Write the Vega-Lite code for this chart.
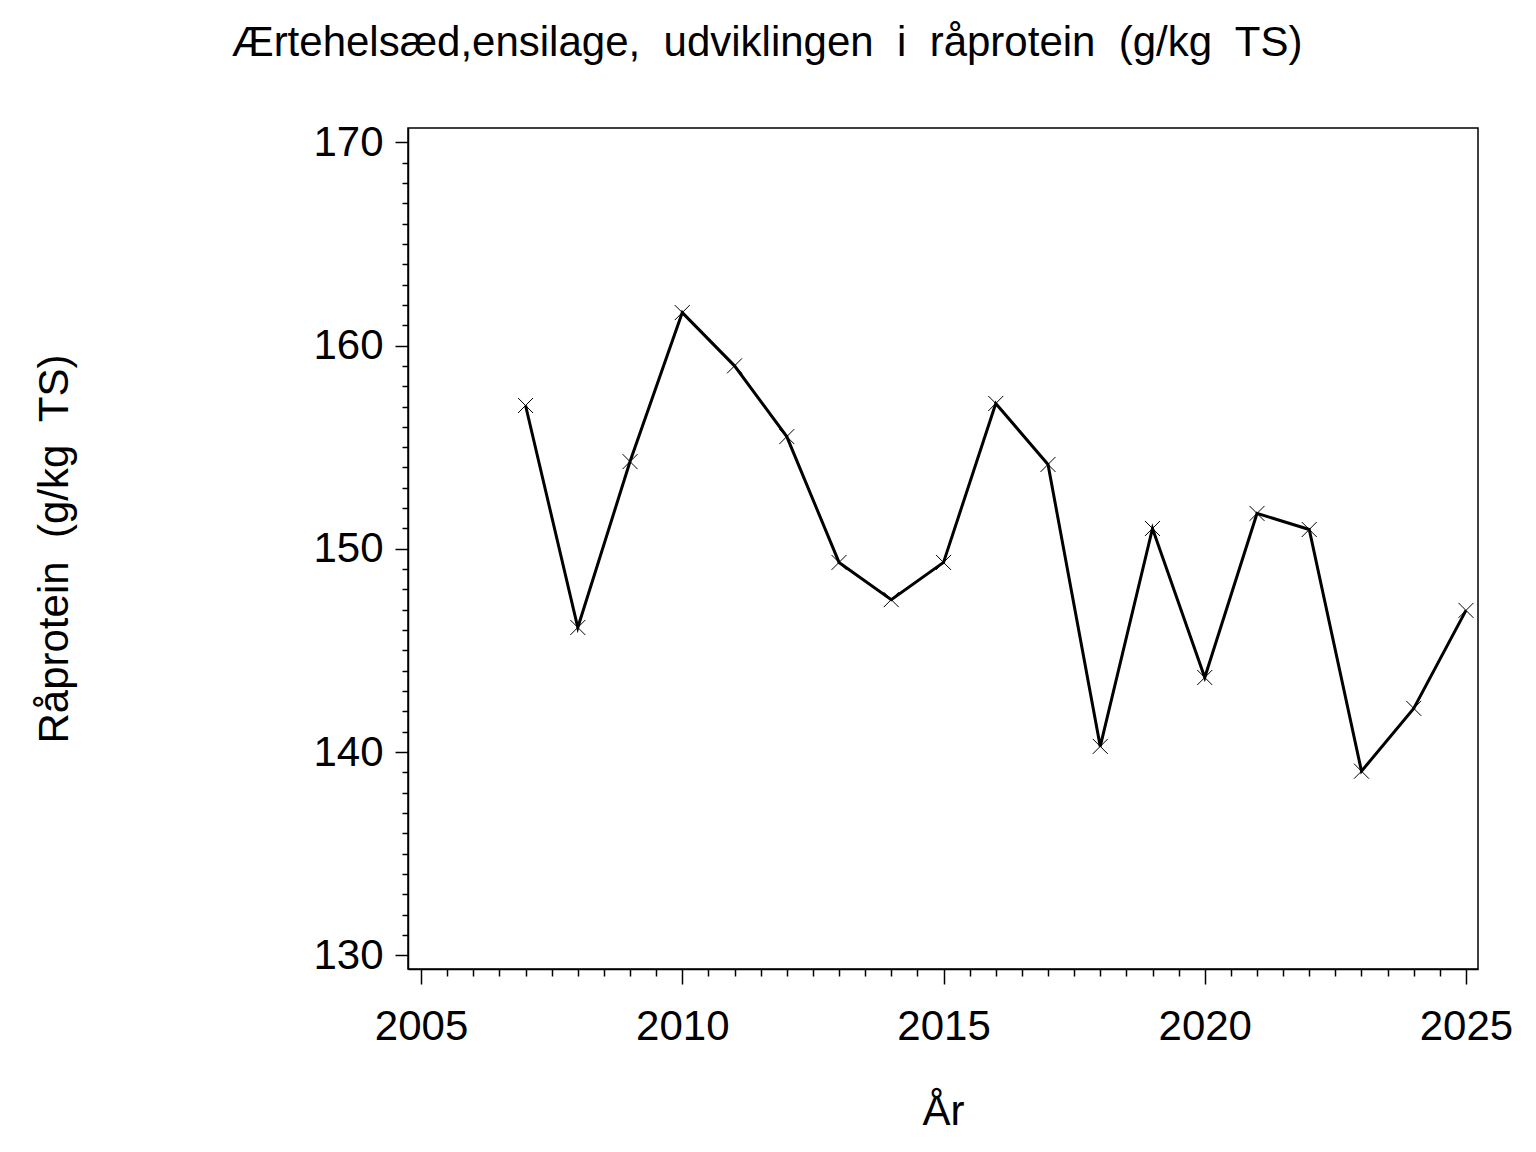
{
  "$schema": "https://vega.github.io/schema/vega-lite/v6.json",
  "width": 1070,
  "height": 841,
  "autosize": {"type": "none"},
  "padding": {"left": 408, "top": 128, "right": 58, "bottom": 183},
  "background": "white",
  "config": {
    "font": "Liberation Sans",
    "view": {"stroke": "black", "strokeWidth": 1.5},
    "axis": {"grid": false, "domainColor": "black", "tickColor": "black", "labelColor": "black", "titleColor": "black", "labelFont": "Liberation Sans", "titleFont": "Liberation Sans", "titleFontWeight": "normal", "tickWidth": 1.5, "domainWidth": 1.5}
  },
  "title": {
    "text": "Ærtehelsæd,ensilage,\u00a0 udviklingen\u00a0 i\u00a0 råprotein\u00a0 (g/kg\u00a0 TS)",
    "font": "Liberation Sans",
    "fontSize": 42,
    "fontWeight": "normal",
    "color": "black",
    "anchor": "middle",
    "dx": -176,
    "baseline": "alphabetic",
    "offset": 23
  },
  "data": {
    "values": [
      {"year": 2007, "protein": 157.05},
      {"year": 2008, "protein": 146.13},
      {"year": 2009, "protein": 154.29},
      {"year": 2010, "protein": 161.62},
      {"year": 2011, "protein": 159.0},
      {"year": 2012, "protein": 155.52},
      {"year": 2013, "protein": 149.33},
      {"year": 2014, "protein": 147.5},
      {"year": 2015, "protein": 149.33},
      {"year": 2016, "protein": 157.15},
      {"year": 2017, "protein": 154.15},
      {"year": 2018, "protein": 140.28},
      {"year": 2019, "protein": 151.0},
      {"year": 2020, "protein": 143.67},
      {"year": 2021, "protein": 151.74},
      {"year": 2022, "protein": 150.95},
      {"year": 2023, "protein": 139.06},
      {"year": 2024, "protein": 142.15},
      {"year": 2025, "protein": 146.97}
    ]
  },
  "layer": [
    {
      "mark": {"type": "line", "color": "black", "strokeWidth": 3, "clip": true},
      "encoding": {
        "x": {
          "field": "year", "type": "quantitative",
          "scale": {"domain": [2004.75, 2025.23], "nice": false, "zero": false},
          "axis": {
            "orient": "bottom",
            "values": [2005, 2010, 2015, 2020, 2025],
            "format": "d",
            "tickSize": 15,
            "labelFontSize": 42,
            "labelPadding": 22,
            "labelFlush": false,
            "title": "År",
            "titleFontSize": 42,
            "titleBaseline": "alphabetic",
            "titleY": 155
          }
        },
        "y": {
          "field": "protein", "type": "quantitative",
          "scale": {"domain": [129.33, 170.7], "nice": false, "zero": false},
          "axis": {
            "orient": "left",
            "values": [130, 140, 150, 160, 170],
            "tickSize": 13,
            "labelFontSize": 42,
            "labelPadding": 12,
            "labelFlush": false,
            "title": "Råprotein\u00a0 (g/kg\u00a0 TS)",
            "titleFontSize": 42,
            "titleBaseline": "alphabetic",
            "titleAngle": 270,
            "titleX": -341
          }
        }
      }
    },
    {
      "mark": {"type": "point", "shape": "M-1,-1L1,1M-1,1L1,-1", "filled": false, "stroke": "black", "strokeWidth": 1, "size": 225, "opacity": 1},
      "encoding": {
        "x": {"field": "year", "type": "quantitative", "axis": null},
        "y": {"field": "protein", "type": "quantitative", "axis": null}
      }
    },
    {
      "mark": {"type": "point", "opacity": 0},
      "encoding": {
        "x": {
          "field": "year", "type": "quantitative",
          "axis": {
            "orient": "bottom",
            "values": [2005.5, 2006, 2006.5, 2007, 2007.5, 2008, 2008.5, 2009, 2009.5, 2010.5, 2011, 2011.5, 2012, 2012.5, 2013, 2013.5, 2014, 2014.5, 2015.5, 2016, 2016.5, 2017, 2017.5, 2018, 2018.5, 2019, 2019.5, 2020.5, 2021, 2021.5, 2022, 2022.5, 2023, 2023.5, 2024, 2024.5],
            "tickSize": 7,
            "labels": false,
            "domain": false,
            "title": null
          }
        },
        "y": {
          "field": "protein", "type": "quantitative",
          "axis": {
            "orient": "left",
            "values": [131, 132, 133, 134, 135, 136, 137, 138, 139, 141, 142, 143, 144, 145, 146, 147, 148, 149, 151, 152, 153, 154, 155, 156, 157, 158, 159, 161, 162, 163, 164, 165, 166, 167, 168, 169],
            "tickSize": 6,
            "labels": false,
            "domain": false,
            "title": null
          }
        }
      }
    }
  ],
  "resolve": {"axis": {"x": "independent", "y": "independent"}}
}
